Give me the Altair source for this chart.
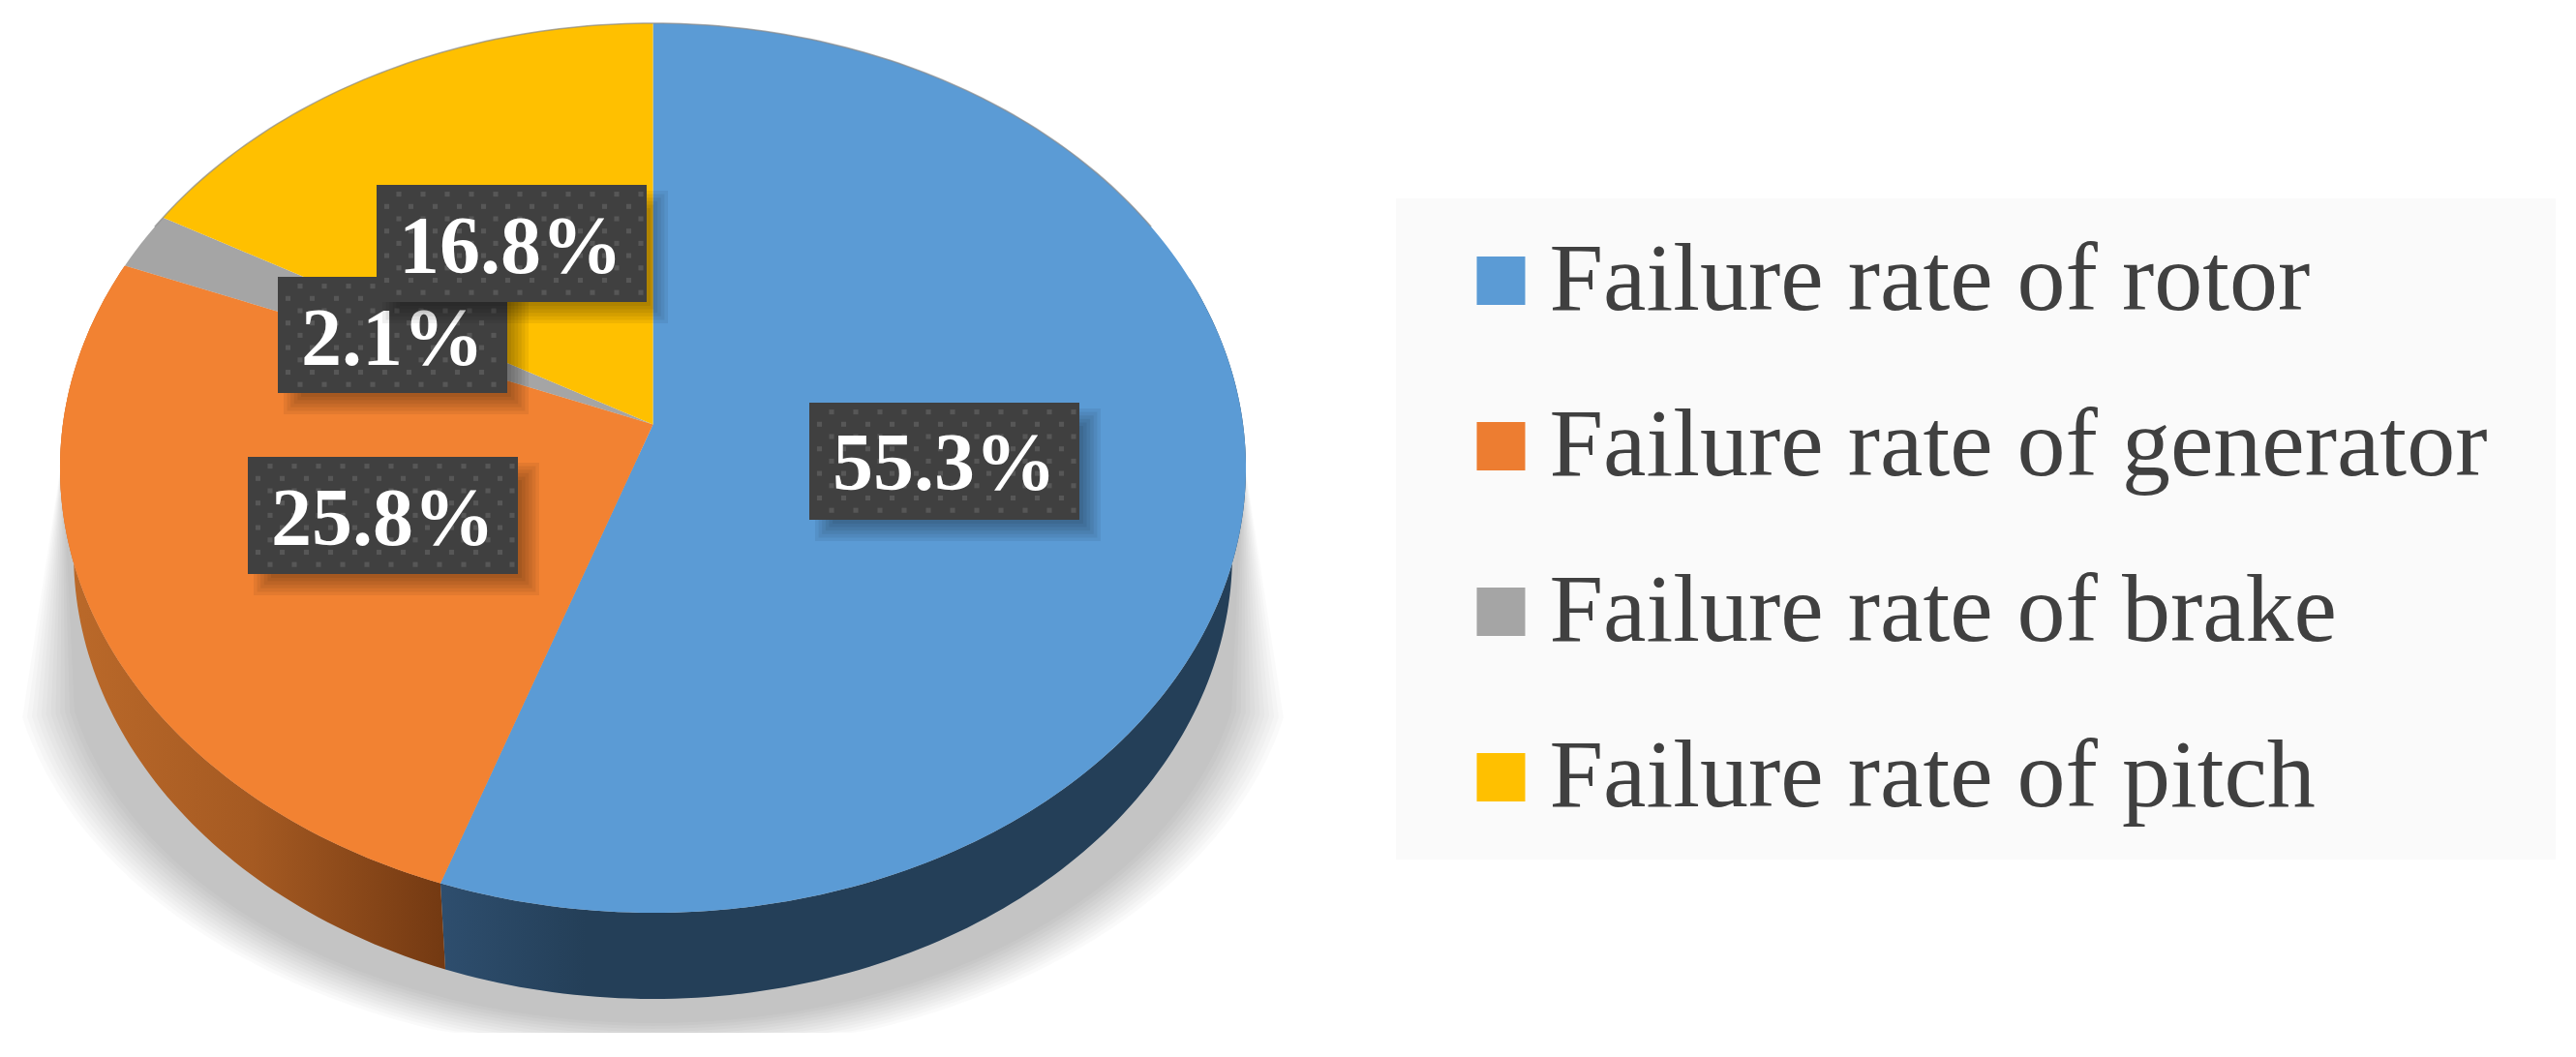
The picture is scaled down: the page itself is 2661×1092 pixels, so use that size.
import math
import altair as alt

# ---- data ----
CATEGORIES = ["Failure rate of rotor", "Failure rate of generator", "Failure rate of brake", "Failure rate of pitch"]
VALUES = [55.3, 25.8, 2.1, 16.8]
LABELS = ["55.3%", "25.8%", "2.1%", "16.8%"]
COLORS = ["#5B9BD5", "#ED7D31", "#A5A5A5", "#FFC000"]

# ---- layout (page pixels) ----
PAGE = 8
W, H = 2645, 1076
CX, CY = 674.5, 438.6     # apex of the pie
R, S, K = 609.6, 455.1, 0.0977   # perspective disc
DEPTH = 89
LOWER_SHRINK = 0.977
LABEL_BOXES = [(836, 416, 1115, 537), (256, 472, 535, 593), (287, 286, 524, 406), (389, 191, 668, 312)]
LABEL_BASE = [(975.5, 506), (395.5, 563), (405.5, 377), (527.5, 282)]
LEGEND_BG = (1442, 205, 2640, 888)


def P(x, y):
    return [round(x - PAGE, 2), round(y - PAGE, 2)]


def rim(deg, lower=False):
    a = math.radians(deg)
    u, v = math.sin(a), math.cos(a)
    d = 1 + K * v
    x, y = R * u / d, -S * v / d
    if lower:
        return P(CX + x * LOWER_SHRINK, CY + y + DEPTH)
    return P(CX + x, CY + y)


def arange(a0, a1, step=1.0):
    n = max(2, int(abs(a1 - a0) / step) + 1)
    return [a0 + (a1 - a0) * i / (n - 1) for i in range(n)]


def feature(coords, name="", kind="Polygon"):
    if kind == "Polygon":
        c = [coords + [coords[0]]]
    else:
        c = coords
    return {"type": "Feature", "properties": {"name": name}, "geometry": {"type": kind, "coordinates": c}}


def shapes(features):
    return alt.Data(values=features)


def rect(x0, y0, x1, y1):
    return [P(x0, y0), P(x1, y0), P(x1, y1), P(x0, y1)]


# slice angles from the values
edges = [0.0]
for v in VALUES:
    edges.append(edges[-1] + v * 3.6)

layers = []

# legend panel
layers.append(alt.Chart(shapes([feature(rect(*LEGEND_BG))])).mark_geoshape(fill="#FAFAFA", stroke=None))

# cast shadow under the pie
for i in range(12):
    d = i * 5.0
    pts = [P(CX - 610, 470)]
    for t in arange(192, 348, 2):
        a = math.radians(t)
        x = CX + (666 - d) * math.cos(a)
        y = 650 - (440 - d * 0.6) * math.sin(a)
        pts.append(P(x, min(y, 1067)))
    pts.append(P(CX + 610, 470))
    layers.append(alt.Chart(shapes([feature(pts)])).mark_geoshape(fill="#000000", fillOpacity=0.0185, stroke=None))

# side walls
side_blue = [rim(a) for a in arange(70, edges[1])] + [rim(a, True) for a in arange(edges[1], 70)]
side_orange = [rim(a) for a in arange(edges[1], edges[2])] + [rim(a, True) for a in arange(edges[2], edges[1])]
grad_blue = alt.LinearGradient(gradient="linear", x1=0, x2=1, y1=0, y2=0, stops=[
    alt.GradientStop(offset=0, color="#2E4E6E"), alt.GradientStop(offset=0.18, color="#243F58"),
    alt.GradientStop(offset=1, color="#243F58")])
grad_orange = alt.LinearGradient(gradient="linear", x1=0, x2=1, y1=0, y2=0, stops=[
    alt.GradientStop(offset=0, color="#BC6A2A"), alt.GradientStop(offset=0.5, color="#A55A22"),
    alt.GradientStop(offset=1, color="#733912")])
layers.append(alt.Chart(shapes([feature(side_blue)])).mark_geoshape(fill=grad_blue, stroke=None))
layers.append(alt.Chart(shapes([feature(side_orange)])).mark_geoshape(fill=grad_orange, stroke=None))

# top faces
apex = P(CX, CY)
slices = []
for name, a0, a1 in zip(CATEGORIES, edges[:-1], edges[1:]):
    slices.append(feature([apex] + [rim(a) for a in arange(a0, a1)], name))
layers.append(
    alt.Chart(shapes(slices)).mark_geoshape(stroke=None).encode(
        color=alt.Color(
            "properties.name:N",
            scale=alt.Scale(domain=CATEGORIES, range=COLORS),
            sort=CATEGORIES,
            legend=alt.Legend(
                title=None, orient="none", legendX=1500.5 - PAGE, legendY=240 - PAGE,
                padding=0, symbolType="square", symbolSize=2500, symbolStrokeWidth=0,
                labelFont="Liberation Serif", labelFontSize=100, labelColor="#404040",
                labelLimit=2000, labelOffset=0, rowPadding=71, symbolOpacity=1,
            ),
        )
    )
)
# top face of the generator slice is a touch lighter than its legend swatch
layers.append(alt.Chart(shapes([slices[1]])).mark_geoshape(fill="#F58534", fillOpacity=0.6, stroke=None))
# thin grey rim at the back of the disc
layers.append(
    alt.Chart(shapes([feature([rim(a) for a in arange(-62, 62)], kind="LineString")])).mark_geoshape(
        filled=False, stroke="#8A8A8A", strokeWidth=1.5, strokeOpacity=0.7
    )
)

# data labels
for text, box, base in zip(LABELS, LABEL_BOXES, LABEL_BASE):
    x0, y0, x1, y1 = box
    for i in range(6):
        e = -10 + i * 3.6
        layers.append(
            alt.Chart(shapes([feature(rect(x0 + 14 - e, y0 + 14 - e, x1 + 14 + e, y1 + 14 + e))])).mark_geoshape(
                fill="#000000", fillOpacity=0.06, stroke=None
            )
        )
    layers.append(alt.Chart(shapes([feature(rect(x0, y0, x1, y1))])).mark_geoshape(fill="#404040", stroke=None))
    dots = []
    yy, row = y0 + 9.6, 0
    while yy < y1 - 2:
        xx = x0 + (23 if row % 2 == 0 else 10.5)
        while xx < x1 - 2:
            lon, lat = P(xx, yy)
            dots.append({"lon": lon, "lat": lat})
            xx += 25
        yy += 12.7
        row += 1
    layers.append(
        alt.Chart(alt.Data(values=dots)).mark_square(color="#5A5A5A", size=26, opacity=0.9, stroke=None).encode(
            longitude="lon:Q", latitude="lat:Q"
        )
    )
    lon, lat = P(*base)
    layers.append(
        alt.Chart(alt.Data(values=[{"lon": lon, "lat": lat, "t": text}])).mark_text(
            font="Liberation Serif", fontSize=84, fontWeight="bold", color="#FFFFFF",
            align="center", baseline="alphabetic",
        ).encode(longitude="lon:Q", latitude="lat:Q", text="t:N")
    )

chart = (
    alt.layer(*layers)
    .project(type="identity", scale=1, translate=[0, 0])
    .properties(width=W, height=H, padding=0, background="#FFFFFF")
    .configure_view(stroke=None)
)
chart.save("out.html", embed_options={"renderer": "svg", "actions": False})
